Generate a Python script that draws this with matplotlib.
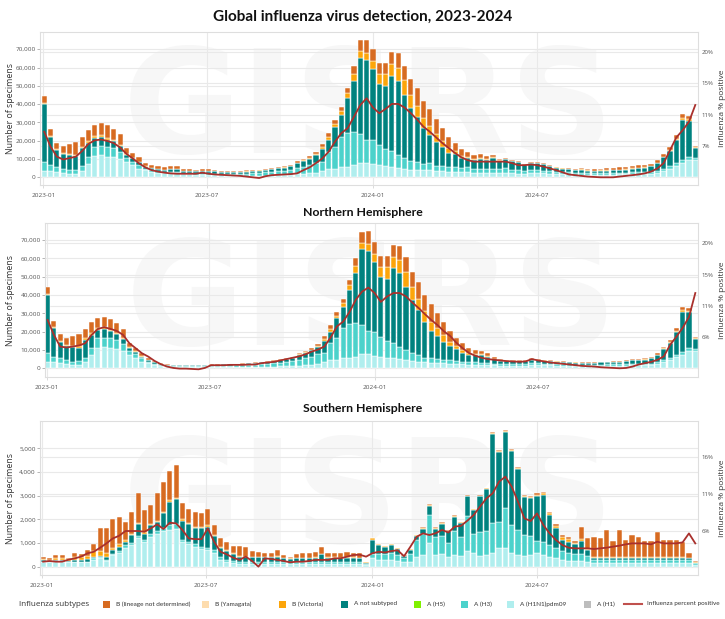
import matplotlib.pyplot as plt
from matplotlib.patches import Rectangle
from matplotlib.lines import Line2D
from matplotlib.ticker import FuncFormatter
from matplotlib import font_manager
import numpy as np
import pandas as pd

W, H = 725, 619

weeks = pd.date_range('2023-01-02', periods=104, freq='7D')

# Northern Hemisphere, thousands of specimens per week
nh_h1n1 = [3.5, 3.3, 2.7, 2.2, 1.8, 1.8, 3.3, 7.3, 11.3, 11.6, 10.9, 10.5, 9.5, 7.3, 5.8, 3.6, 2.7, 1.8, 1.2, 0.9,
           0.7, 0.7, 0.65, 0.65, 0.65, 0.7, 0.7, 0.7, 0.7, 0.7, 0.7, 0.7, 0.7, 0.75, 0.8, 0.85, 0.9, 1.0, 1.1, 1.3, 1.5, 1.8, 2.0, 2.3,
           3.6, 4.5, 4.5, 5.5, 5.5, 6.4, 7.6, 7.6, 6.9, 6.4, 5.8, 5.5, 5.1, 4.5, 4.0, 3.6, 3.3, 3.1,
           3.0, 2.8, 2.6, 2.4, 2.2, 2.0, 2.0, 2.0, 1.9, 1.7,
           1.5, 1.5, 1.5, 1.5, 1.5, 1.9, 1.9, 1.7, 1.6, 1.5, 1.4, 1.3, 1.2, 1.2, 1.2, 1.2, 1.2, 1.3, 1.3, 1.4, 1.5, 1.6, 1.6, 1.7,
           1.8, 2.3, 3.3, 4.5, 6.0, 7.5, 9.5, 9.5]
nh_h3 = [4.7, 3.1, 2.8, 2.3, 1.8, 2.2, 2.5, 3.6, 5.0, 5.2, 5.5, 5.0, 3.5, 2.2, 1.8, 1.9, 0.9, 0.8, 0.6, 0.5,
         0.5, 0.5, 0.5, 0.5, 0.5, 0.5, 0.6, 0.65, 0.7, 0.8, 0.85, 1.0, 1.1, 1.2, 1.4, 1.6, 1.8, 2.1, 2.3, 2.7, 3.3, 3.8, 4.3, 5.3,
         4.6, 9.1, 11.9, 16.3, 18.5, 18.1, 16.0, 12.8, 13.1, 10.9, 9.1, 8.1, 6.7, 5.5, 4.2, 3.7, 2.5, 2.4,
         2.2, 2.0, 1.8, 1.6, 1.4, 1.3, 1.2, 1.1, 1.0, 0.9,
         1.0, 0.9, 0.9, 0.9, 0.8, 1.0, 1.0, 0.9, 0.8, 0.8, 0.8, 0.8, 0.7, 0.7, 0.7, 0.7, 0.8, 0.8, 0.8, 0.8, 0.8, 0.8, 0.8, 0.8,
         0.8, 0.9, 1.1, 1.3, 1.5, 1.5, 1.5, 1.0]
nh_not_subtyped = [31.8, 15.6, 9.0, 7.9, 8.2, 7.3, 9.7, 7.5, 4.8, 4.6, 3.8, 3.4, 3.0, 1.8, 1.5, 0.9, 0.9, 0.8, 0.6, 0.5,
                   0.5, 0.5, 0.5, 0.5, 0.5, 0.55, 0.6, 0.65, 0.7, 0.7, 0.75, 0.8, 0.9, 0.95, 1.05, 1.2, 1.4, 1.5, 1.6, 1.8, 2.5, 3.0, 3.5, 4.2,
                   6.7, 6.4, 10.9, 11.8, 18.7, 27.7, 41.4, 43.6, 37.8, 32.7, 34.1, 40.9, 40.0, 34.5, 29.1, 24.5, 19.7, 14.9,
                   12.3, 9.7, 7.5, 6.5, 4.9, 4.0, 3.8, 3.9, 3.3, 2.4,
                   1.7, 1.7, 1.6, 1.6, 1.5, 1.9, 1.8, 1.6, 1.5, 1.4, 1.3, 1.2, 1.2, 1.1, 1.1, 1.1, 1.2, 1.2, 1.3, 1.4, 1.6, 2.0, 2.1, 2.3,
                   3.0, 4.0, 6.1, 8.2, 12.5, 21.8, 19.5, 5.5]
nh_victoria = [0.5, 0.4, 0.5, 0.5, 0.6, 0.7, 0.8, 0.9, 0.9, 0.9, 0.7, 0.6, 0.5, 0.3, 0.2, 0.2, 0.1, 0.1, 0.1, 0.05,
               0.05, 0.05, 0.05, 0.05, 0.05, 0.05, 0.05, 0.05, 0.05, 0.05, 0.05, 0.05, 0.05, 0.05, 0.05, 0.05,
               0.1, 0.1, 0.1, 0.15, 0.3, 0.3, 0.4, 0.6,
               1.2, 1.6, 1.4, 2.0, 2.7, 3.6, 3.6, 3.9, 4.5, 5.5, 6.4, 6.4, 7.3, 8.0, 7.0, 6.0, 5.5, 5.0,
               4.5, 3.6, 2.7, 1.8, 1.5, 1.0, 0.8, 0.7, 0.5, 0.3,
               0.2, 0.2, 0.15, 0.1, 0.1, 0.1, 0.1, 0.1, 0.1, 0.1, 0.1, 0.1, 0.1, 0.1, 0.1, 0.1, 0.1, 0.1, 0.1, 0.1, 0.15, 0.2, 0.2, 0.2,
               0.2, 0.3, 0.4, 0.5, 0.6, 1.0, 0.9, 0.3]
nh_b_undetermined = [3.7, 3.6, 3.5, 3.5, 5.2, 6.5, 5.0, 5.7, 5.6, 5.7, 6.0, 5.0, 5.0, 2.3, 1.6, 1.6, 0.9, 0.5, 0.4, 0.25,
                     0.25, 0.25, 0.2, 0.2, 0.2, 0.25, 0.25, 0.25, 0.25, 0.25, 0.25, 0.25, 0.25, 0.25, 0.3, 0.3,
                     0.3, 0.4, 0.4, 0.45, 0.6, 0.6, 0.7, 0.9,
                     1.5, 2.0, 1.8, 2.2, 2.8, 4.2, 5.6, 7.0, 6.4, 6.0, 6.1, 6.4, 7.8, 8.0, 8.4, 9.5, 9.0, 9.5,
                     8.0, 7.0, 5.8, 4.4, 3.6, 2.6, 2.2, 1.8, 1.5, 1.1,
                     0.6, 0.5, 0.45, 0.4, 0.4, 0.5, 0.4, 0.3, 0.3, 0.2, 0.2, 0.2, 0.2, 0.2, 0.2, 0.2, 0.2, 0.2, 0.3, 0.3, 0.35, 0.4, 0.5, 0.5,
                     0.6, 0.7, 0.9, 1.0, 1.2, 1.8, 1.7, 0.6]
nh_pct = [8.75, 6.55, 4.84, 4.7, 4.84, 5.0, 5.33, 6.55, 7.43, 7.68,
          7.43, 7.14, 6.55, 5.33, 4.6, 3.86, 3.37, 2.74, 2.25, 1.9,
          1.7, 1.6, 1.6, 1.55, 1.5, 1.7, 2.1, 2.1, 2.1, 2.15,
          2.15, 2.15, 2.2, 2.2, 2.4, 2.5, 2.6, 2.8, 3.0, 3.2,
          3.4, 3.7, 4.1, 4.4, 4.84, 6.16, 7.8, 8.5, 9.9, 11.7,
          12.9, 13.5, 12.7, 11.4, 12.2, 12.7, 12.7, 12.2, 11.3, 10.5,
          9.6, 8.75, 8.0, 7.1, 6.4, 5.4, 4.6, 3.9, 3.5, 3.2,
          3.0, 2.9, 2.8, 2.7, 2.65, 2.6, 2.65, 3.0, 2.8, 2.65,
          2.5, 2.4, 2.3, 2.2, 2.1, 2.0, 1.95, 1.9, 1.8, 1.75,
          1.7, 1.65, 1.7, 1.9, 2.2, 2.4, 2.6, 2.9, 3.4, 5.1,
          6.3, 7.6, 9.2, 12.7]

# Southern Hemisphere, thousands of specimens per week
sh_h1n1 = [0.2, 0.18, 0.22, 0.22, 0.18, 0.2, 0.18, 0.2,
           0.3, 0.35, 0.25, 0.5, 0.6, 0.8, 0.9, 1.2, 1.05, 1.25, 1.4, 1.5, 1.55, 1.6, 1.05, 0.95, 0.85, 0.75, 0.7, 0.6, 0.3, 0.2, 0.15,
           0.12, 0.1, 0.1, 0.1, 0.1, 0.1, 0.12, 0.1, 0.1, 0.1, 0.1, 0.1, 0.1, 0.12, 0.1, 0.1, 0.1, 0.1, 0.1, 0.1,
           0.08,
           0.35, 0.3, 0.3, 0.3, 0.25, 0.2, 0.2, 0.4, 0.5, 1.0, 0.5, 0.55, 0.4, 0.5, 0.45, 0.65, 0.6, 0.45, 0.5,
           0.57, 0.78, 0.8, 0.6, 0.5, 0.45, 0.5, 0.6, 0.5, 0.4, 0.35, 0.3, 0.25, 0.25, 0.25, 0.2,
           0.15, 0.15, 0.15, 0.15, 0.15, 0.15, 0.15, 0.15, 0.15, 0.15, 0.15, 0.15, 0.15, 0.15, 0.15, 0.15, 0.08]
sh_h3 = [0.02, 0.02, 0.02, 0.02, 0.02, 0.02, 0.02, 0.02,
         0.05, 0.05, 0.05, 0.05, 0.05, 0.1, 0.1, 0.1, 0.1, 0.15, 0.1, 0.15, 0.2, 0.2, 0.1, 0.1, 0.1, 0.1, 0.1, 0.1, 0.1, 0.1, 0.1,
         0.1, 0.1, 0.1, 0.1, 0.1, 0.1, 0.1, 0.1, 0.1, 0.1, 0.1, 0.1, 0.1, 0.1, 0.1, 0.1, 0.1, 0.1, 0.1, 0.1,
         0.05,
         0.2, 0.25, 0.25, 0.3, 0.25, 0.15, 0.35, 0.75, 0.9, 1.2, 0.75, 0.75, 0.6, 1.0, 0.8, 1.5, 0.8, 1.0, 1.0,
         1.26, 1.12, 1.67, 1.16, 1.05, 0.89, 0.8, 0.5, 0.55, 0.5, 0.45, 0.35, 0.35, 0.3, 0.3, 0.25,
         0.15, 0.15, 0.15, 0.15, 0.15, 0.15, 0.15, 0.15, 0.15, 0.15, 0.15, 0.15, 0.15, 0.15, 0.15, 0.15, 0.06]
sh_not_subtyped = [0.05, 0.05, 0.06, 0.06, 0.05, 0.08, 0.07, 0.1,
                   0.05, 0.05, 0.1, 0.15, 0.2, 0.15, 0.35, 0.5, 0.25, 0.35, 0.4, 0.6, 1.0, 1.05, 0.8, 0.75, 0.7, 0.8, 0.9, 0.6, 0.4, 0.35, 0.3,
                   0.2, 0.2, 0.2, 0.2, 0.2, 0.2, 0.2, 0.15, 0.12, 0.15, 0.15, 0.15, 0.18, 0.3, 0.18, 0.18, 0.15, 0.18, 0.18, 0.15,
                   0.04,
                   0.6, 0.35, 0.28, 0.3, 0.25, 0.1, 0.17, 0.13, 0.2, 0.35, 0.35, 0.5, 0.5, 0.6, 0.6, 0.83, 1.0, 1.53, 1.8,
                   3.77, 2.96, 3.23, 3.12, 2.57, 1.6, 1.6, 1.9, 2.0, 1.3, 0.85, 0.5, 0.45, 0.4, 0.55, 0.25,
                   0.06, 0.06, 0.06, 0.06, 0.06, 0.06, 0.06, 0.06, 0.06, 0.06, 0.06, 0.06, 0.06, 0.06, 0.06, 0.05, 0.03]
sh_victoria = [0.05, 0.05, 0.08, 0.08, 0.06, 0.1, 0.12, 0.15,
               0.25, 0.2, 0.2, 0.1, 0.1, 0.1, 0.05, 0.05, 0.05, 0.05, 0.05, 0.05, 0.05, 0.05, 0.05, 0.05, 0.05, 0.05, 0.05, 0.05, 0.05, 0.05, 0.04,
               0.03, 0.03, 0.03, 0.03, 0.03, 0.03, 0.03, 0.03, 0.03, 0.03, 0.03, 0.03, 0.03, 0.03, 0.03, 0.03, 0.03, 0.03, 0.03, 0.03,
               0.02,
               0.05, 0.04, 0.04, 0.04, 0.03, 0.02, 0.03, 0.04, 0.04, 0.05, 0.04, 0.05, 0.03, 0.05, 0.03, 0.03, 0.04, 0.03, 0.02,
               0.05, 0.04, 0.05, 0.05, 0.05, 0.05, 0.05, 0.05, 0.06, 0.06, 0.08, 0.1, 0.12, 0.05, 0.09, 0.05,
               0.07, 0.07, 0.07, 0.07, 0.07, 0.07, 0.07, 0.07, 0.07, 0.07, 0.07, 0.07, 0.07, 0.07, 0.07, 0.03, 0.02]
sh_b_undetermined = [0.10, 0.08, 0.11, 0.11, 0.07, 0.16, 0.13, 0.23,
                     0.29, 1.0, 1.02, 1.21, 1.16, 0.75, 0.92, 1.25, 0.94, 0.83, 1.15, 1.29, 1.24, 1.4, 0.68, 0.61, 0.6, 0.55, 0.71, 0.41, 0.35, 0.36, 0.3,
                     0.44, 0.42, 0.23, 0.2, 0.17, 0.17, 0.25, 0.11, 0.07, 0.14, 0.18, 0.18, 0.22, 0.3, 0.19, 0.19, 0.18, 0.22, 0.19, 0.18,
                     0.02,
                     0.03, 0.02, 0.02, 0.02, 0.02, 0.02, 0.02, 0.02, 0.02, 0.05, 0.02, 0.02, 0.02, 0.02, 0.02, 0.02, 0.02, 0.02, 0.02,
                     0.05, 0.03, 0.03, 0.03, 0.03, 0.04, 0.04, 0.05, 0.06, 0.06, 0.07, 0.09, 0.1, 0.1, 0.5, 0.45,
                     0.84, 0.77, 1.12, 0.65, 1.12, 0.7, 0.91, 0.84, 0.65, 0.65, 1.02, 0.72, 0.7, 0.7, 0.63, 0.18, 0.05]
sh_pct = [1.86, 1.95, 1.86, 1.86, 2.13, 2.31, 2.54, 2.99, 3.2, 3.75,
          4.33, 5.0, 5.36, 6.0, 6.0, 6.0, 5.9, 6.36, 6.9, 6.27,
          7.12, 7.03, 6.13, 5.0, 4.9, 4.9, 6.36, 4.56, 3.2, 2.85,
          2.4, 2.1, 2.54, 1.95, 1.19, 2.31, 2.22, 2.1, 1.95, 1.77,
          1.86, 1.86, 1.95, 2.1, 2.1, 2.1, 2.31, 2.31, 2.54, 2.76,
          2.8, 2.54, 3.0, 3.2, 3.1, 3.3, 3.4, 2.6, 3.88, 5.23,
          5.68, 5.46, 5.7, 6.15, 5.8, 6.6, 6.7, 7.4, 8.16, 9.3,
          10.4, 11.09, 12.66, 13.34, 11.99, 9.96, 7.71, 7.35, 8.38, 6.81,
          5.68, 4.78, 4.11, 3.75, 3.66, 3.66, 3.66, 3.57, 3.66, 3.75,
          3.89, 4.02, 4.2, 4.33, 4.33, 4.33, 4.2, 4.56, 4.33, 4.33,
          4.33, 4.47, 5.68, 4.33]

# Global percent positive
global_pct = [8.6, 6.5, 5.1, 4.7, 4.9, 5.1, 5.9, 6.9, 7.4, 7.5,
              7.3, 7.0, 6.4, 5.5, 4.85, 4.15, 3.6, 3.2, 3.0, 2.85,
              2.75, 2.7, 2.7, 2.7, 2.7, 2.85, 2.7, 2.6, 2.55, 2.5,
              2.45, 2.4, 2.3, 2.2, 2.1, 2.35, 2.5, 2.55, 2.6, 2.65,
              2.75, 3.2, 3.6, 4.2, 4.85, 5.8, 7.2, 8.4, 9.1, 10.7,
              12.35, 13.3, 12.0, 11.2, 11.8, 12.5, 12.5, 12.0, 11.2, 10.3,
              9.3, 8.6, 7.8, 7.0, 6.3, 5.6, 5.0, 4.6, 4.4, 4.4,
              4.4, 4.4, 4.4, 4.4, 4.2, 3.9, 3.9, 4.0, 3.9, 3.7,
              3.45, 3.2, 2.9, 2.6, 2.5, 2.4, 2.3, 2.25, 2.2, 2.2,
              2.2, 2.3, 2.4, 2.5, 2.6, 2.75, 3.0, 3.45, 4.2, 6.0,
              7.8, 8.8, 10.0, 12.35]

stack_names = ['A (H1N1)pdm09', 'A (H3)', 'A not subtyped', 'B (Victoria)', 'B (lineage not determined)']
nh = [nh_h1n1, nh_h3, nh_not_subtyped, nh_victoria, nh_b_undetermined]
sh = [sh_h1n1, sh_h3, sh_not_subtyped, sh_victoria, sh_b_undetermined]
glob = [np.add(a, b) for a, b in zip(nh, sh)]

colors = {
    'B (lineage not determined)': '#d76b21',
    'B (Yamagata)': '#fddcae',
    'B (Victoria)': '#fca50a',
    'A not subtyped': '#00827f',
    'A (H5)': '#7ff000',
    'A (H3)': '#4cd2cb',
    'A (H1N1)pdm09': '#b0eeee',
    'A (H1)': '#bdbdbd',
}
line_color = '#a9302c'
grid_color = '#e9e9e9'
text_color = '#555555'

plt.rcParams['font.family'] = ['Open Sans', 'DejaVu Sans']
installed = {f.name for f in font_manager.fontManager.ttflist}
small_font = 'Liberation Sans Narrow' if 'Liberation Sans Narrow' in installed else 'Lato'

fig = plt.figure(figsize=(W / 100, H / 100), dpi=100)


def px_box(left, top, right, bottom):
    return [left / W, 1 - bottom / H, (right - left) / W, (bottom - top) / H]


def draw_panel(box, stacks, pct, scale, ylim, yticks, pct_lim, pct_ticks, pct_labels, xoff):
    ax = fig.add_axes(box)
    ax.text(0.5, 0.47, 'GISRS', transform=ax.transAxes, ha='center', va='center',
            fontsize=104, fontweight='bold', color='#f7f7f7', family='DejaVu Sans', zorder=0)
    bottom = np.zeros(len(weeks))
    for name, vals in zip(stack_names, stacks):
        v = np.asarray(vals) * scale
        ax.bar(weeks, v, width=5.7, bottom=bottom, color=colors[name],
               edgecolor='white', linewidth=0.35, zorder=2)
        bottom += v
    t0 = pd.Timestamp('2023-01-01')
    ax.set_xlim(t0 - pd.Timedelta(days=xoff), t0 + pd.Timedelta(days=725))
    ax.set_ylim(*ylim)
    ax.set_yticks(yticks)
    ax.yaxis.set_major_formatter(FuncFormatter(lambda v, p: f'{v:,.0f}'))
    dticks = pd.to_datetime(['2023-01-01', '2023-07-01', '2024-01-01', '2024-07-01'])
    ax.set_xticks(dticks)
    ax.set_xticklabels([d.strftime('%Y-%m') for d in dticks])
    ax.grid(True, color=grid_color, lw=0.8, zorder=0)
    ax.set_axisbelow(True)
    # right-axis gridlines, drawn behind the bars
    for p in pct_ticks:
        y = ylim[0] + (p - pct_lim[0]) / (pct_lim[1] - pct_lim[0]) * (ylim[1] - ylim[0])
        ax.axhline(y, color=grid_color, lw=0.8, zorder=0.5)
    ax.tick_params(axis='y', labelsize=4.6, length=2, width=0.5, color='#999999', labelcolor=text_color, pad=1)
    ax.tick_params(axis='x', labelsize=4.6, length=2.5, width=0.5, color='#cccccc', labelcolor=text_color, pad=3)
    ax.set_ylabel('Number of specimens', fontsize=6.3, color='#333333')
    ax.yaxis.set_label_coords(-(box[0] * W - 15) / (box[2] * W), 0.5)
    for s in ax.spines.values():
        s.set_color('#dedede')
        s.set_linewidth(0.8)

    ax2 = ax.twinx()
    ax2.plot(weeks, pct, color=line_color, lw=1.3, zorder=5)
    ax2.set_ylim(*pct_lim)
    ax2.set_yticks(pct_ticks)
    ax2.set_yticklabels(pct_labels)
    ax2.tick_params(axis='y', labelsize=4.4, length=0, labelcolor=text_color, pad=2.5)
    ax2.set_ylabel('Influenza % positive', fontsize=6, color='#333333', rotation=90)
    ax2.yaxis.set_label_coords((719 - box[0] * W) / (box[2] * W), 0.5)
    for s in ax2.spines.values():
        s.set_visible(False)
    return ax, ax2


draw_panel(px_box(40, 32, 698, 185), glob, global_pct, 1000, (-4200, 79400),
           range(0, 70001, 10000), (1.12, 22.6), [6.6, 11.0, 15.4, 19.8], ['7%', '11%', '15%', '20%'], 3.7)
draw_panel(px_box(45, 223, 698, 377), nh, nh_pct, 1000, (-4750, 79300),
           range(0, 70001, 10000), (0.37, 22.98), [6.2, 10.8, 15.4, 20.0], ['6%', '11%', '15%', '20%'], 1.9)
draw_panel(px_box(40, 421, 698, 575), sh, sh_pct, 1000, (-350, 6160),
           range(0, 5001, 1000), (0.06, 20.86), [6, 11, 16], ['6%', '11%', '16%'], 2.5)

title_font = ['Lato', 'DejaVu Sans']
fig.text(0.5, 1 - 17 / H, 'Global influenza virus detection, 2023-2024', ha='center', va='center',
         fontsize=11, fontweight='bold', family=title_font, color='#111111')
fig.text(0.5, 1 - 212 / H, 'Northern Hemisphere', ha='center', va='center',
         fontsize=8.8, fontweight='bold', family=title_font, color='#111111')
fig.text(0.5, 1 - 408 / H, 'Southern Hemisphere', ha='center', va='center',
         fontsize=8.8, fontweight='bold', family=title_font, color='#111111')

# legend row
ly = 1 - 604 / H
fig.text(19 / W, ly, 'Influenza subtypes', ha='left', va='center', fontsize=5.8, color='#333333')
legend_items = [('B (lineage not determined)', 103), ('B (Yamagata)', 202), ('B (Victoria)', 279),
                ('A not subtyped', 341), ('A (H5)', 414), ('A (H3)', 461), ('A (H1N1)pdm09', 507), ('A (H1)', 584)]
for name, x in legend_items:
    fig.add_artist(Rectangle((x / W, ly - 3.5 / H), 7 / W, 7 / H, transform=fig.transFigure,
                             facecolor=colors[name], edgecolor='none'))
    fig.text((x + 13) / W, ly, name, ha='left', va='center', fontsize=4.6, family=small_font, color='#333333')
fig.add_artist(Line2D([624 / W, 642 / W], [ly, ly], transform=fig.transFigure, color='#c0504d', lw=1.5))
fig.text(647 / W, ly, 'Influenza percent positive', ha='left', va='center', fontsize=4.6,
         family=small_font, color='#333333')

fig.savefig('out.png', dpi=100)
